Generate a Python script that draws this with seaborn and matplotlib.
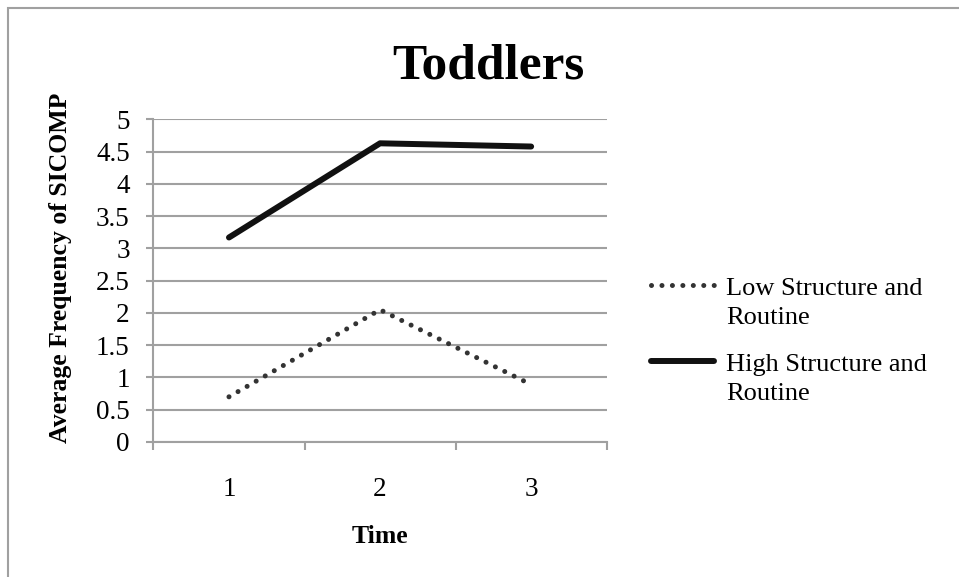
import pandas as pd
import matplotlib.pyplot as plt
import seaborn as sns
from matplotlib.patches import Rectangle
from matplotlib.lines import Line2D
from matplotlib.ticker import FixedLocator

# data
time_points = [1, 2, 3]
low_structure = [0.70, 2.05, 0.89]
high_structure = [3.17, 4.63, 4.58]
series_names = ["Low Structure and Routine", "High Structure and Routine"]
legend_lines = [["Low Structure and", "Routine"], ["High Structure and", "Routine"]]
y_ticks = [0, 0.5, 1, 1.5, 2, 2.5, 3, 3.5, 4, 4.5, 5]

sns.set_style("white")
plt.rcParams["font.family"] = ["Liberation Serif", "DejaVu Serif"]
plt.rcParams["text.color"] = "black"
plt.rcParams["axes.labelcolor"] = "black"

GRID = "#a0a0a0"
W, H = 959, 577

df = pd.DataFrame({
    "time": time_points * 2,
    "value": low_structure + high_structure,
    "series": [series_names[0]] * 3 + [series_names[1]] * 3,
})

styles = {
    series_names[0]: dict(color="#333333", lw=3.6, linestyle=(0, (0.01, 2.08)),
                          dash_capstyle="round"),
    series_names[1]: dict(color="#111111", lw=4.3, solid_capstyle="round"),
}

fig = plt.figure(figsize=(W / 100, H / 100), dpi=100)
ax = fig.add_axes([0.160, 0.234, 0.4726, 0.559])

for name in series_names:
    sub = df[df["series"] == name]
    sns.lineplot(data=sub, x="time", y="value", ax=ax, legend=False, **styles[name])

ax.set_xlim(0.5, 3.5)
ax.set_ylim(0, 5)
ax.set_yticks(y_ticks)
ax.set_yticklabels([f"{v:g}" for v in y_ticks])
ax.set_xticks(time_points)
ax.set_xticklabels([str(t) for t in time_points])
ax.xaxis.set_minor_locator(FixedLocator([0.5, 1.5, 2.5, 3.5]))

ax.yaxis.grid(True, color=GRID, lw=1.5)
ax.set_axisbelow(True)
for s in ["top", "right"]:
    ax.spines[s].set_visible(False)
for s in ["left", "bottom"]:
    ax.spines[s].set_color(GRID)
    ax.spines[s].set_linewidth(1.5)

ax.tick_params(axis="y", which="major", direction="out", length=5, width=1.5,
               color=GRID, pad=12, labelsize=19.5, labelcolor="black", left=True)
ax.tick_params(axis="x", which="major", length=0, pad=25, labelsize=19.5,
               labelcolor="black")
ax.tick_params(axis="x", which="minor", direction="out", length=6, width=1.5,
               color=GRID, bottom=True)

ax.set_xlabel("Time", fontsize=18.5, fontweight="bold")
ax.xaxis.set_label_coords(0.5, -0.294)
ax.xaxis.label.set_va("center")
ax.set_ylabel("Average Frequency of SICOMP", fontsize=18.5, fontweight="bold")
ax.yaxis.set_label_coords(-0.206, 0.539)
ax.yaxis.label.set_va("center")

fig.text(0.509, 0.8648, "Toddlers", fontsize=37, fontweight="bold",
         ha="center", va="baseline")

# legend drawn by hand so the key sits beside the first line of each label
handle_y = [285, 361]
first_baseline = [295, 371]
for name, lines, hy, by in zip(series_names, legend_lines, handle_y, first_baseline):
    fig.add_artist(Line2D([651 / W, 714 / W], [1 - hy / H, 1 - hy / H],
                          transform=fig.transFigure, **styles[name]))
    for i, txt in enumerate(lines):
        fig.text(726 / W, 1 - (by + 29.5 * i) / H, txt, fontsize=19,
                 ha="left", va="baseline")

# chart area border (only the left and top edges fall inside the image)
fig.patches.append(Rectangle((8 / W, -0.1), 1.2, 1 - 8 / H + 0.1,
                             transform=fig.transFigure, fill=False,
                             ec=GRID, lw=1.5))

fig.savefig("out.png", dpi=100)
